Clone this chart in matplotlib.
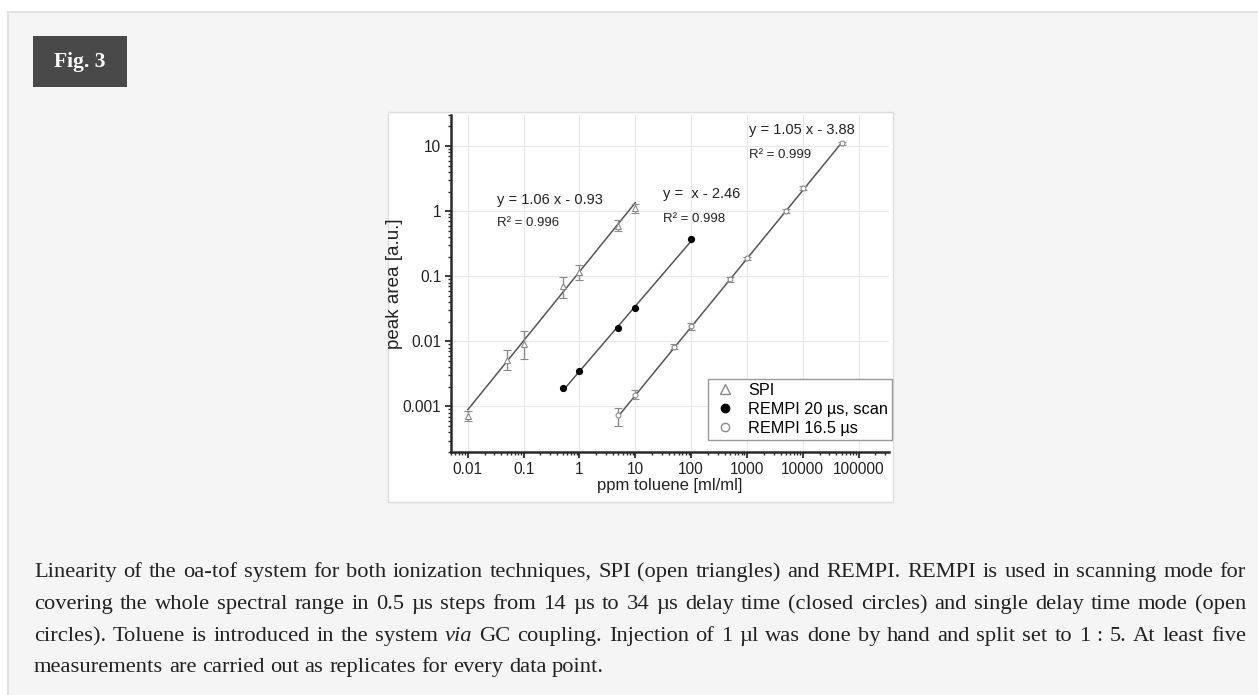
import numpy as np
import matplotlib
matplotlib.use("Agg")
import matplotlib.pyplot as plt
from matplotlib.patches import Rectangle
from matplotlib.lines import Line2D
from matplotlib.ticker import LogLocator, FuncFormatter, NullFormatter

# Data
spi_x = [0.01, 0.05, 0.1, 0.5, 1, 5, 10]
spi_y = [0.00072, 0.0052, 0.009, 0.07, 0.115, 0.6, 1.1]
spi_lo = [0.0006, 0.0036, 0.0054, 0.046, 0.087, 0.5, 0.95]
spi_hi = [0.00085, 0.0074, 0.0145, 0.098, 0.15, 0.72, 1.3]

scan_x = [0.5, 1, 5, 10, 100]
scan_y = [0.0019, 0.0035, 0.016, 0.033, 0.37]

r16_x = [5, 10, 50, 100, 500, 1000, 5000, 10000, 50000]
r16_y = [0.00075, 0.0015, 0.0083, 0.017, 0.09, 0.19, 1.0, 2.3, 11]
r16_lo = [0.0005, 0.0013, 0.0077, 0.015, 0.083, 0.18, 0.93, 2.15, 10.5]
r16_hi = [0.00095, 0.0018, 0.009, 0.019, 0.097, 0.2, 1.07, 2.45, 11.5]

# log-log fits: log y = m log x + b
fit_m = [1.06, 1.0, 1.05]
fit_b = [-0.93, -2.46, -3.88]
fit_xrange = [(0.01, 10), (0.5, 100), (5, 50000)]
fit_eq = ["y = 1.06 x - 0.93", "y =  x - 2.46", "y = 1.05 x - 3.88"]
fit_r2 = ["R² = 0.996", "R² = 0.998", "R² = 0.999"]
eq_pos = [(0.033, 1.5), (31, 1.85), (1070, 17.5)]
r2_pos = [(0.033, 0.66), (31, 0.75), (1070, 7.4)]

legend_labels = ["SPI", "REMPI 20 µs, scan", "REMPI 16.5 µs"]

caption_lines = [
    "Linearity of the oa-tof system for both ionization techniques, SPI (open triangles) and REMPI. REMPI is used in scanning mode for",
    "covering the whole spectral range in 0.5 µs steps from 14 µs to 34 µs delay time (closed circles) and single delay time mode (open",
    "circles). Toluene is introduced in the system via GC coupling. Injection of 1 µl was done by hand and split set to 1 : 5. At least five",
    "measurements are carried out as replicates for every data point.",
]
italic_words = {"via"}

W, H = 1258, 695
fig = plt.figure(figsize=(W / 100, H / 100), dpi=100)
fig.patch.set_facecolor("white")

# page panel, figure label and chart background
fig.patches.append(Rectangle((8 / W, -0.05), 1.1, 1 - 12 / H + 0.05, transform=fig.transFigure,
                             facecolor="#f5f5f5", edgecolor="#e2e2e2", lw=1.5, zorder=0))
fig.patches.append(Rectangle((33 / W, 1 - 87 / H), 94 / W, 51 / H, transform=fig.transFigure,
                             facecolor="#494949", edgecolor="none", zorder=1))
fig.text(80 / W, 1 - 62 / H, "Fig. 3", color="white", fontsize=15.5, fontweight="bold",
         family="Liberation Serif", ha="center", va="center")
fig.patches.append(Rectangle((388 / W, 1 - 502 / H), 505 / W, 390 / H, transform=fig.transFigure,
                             facecolor="white", edgecolor="#dddddd", lw=1, zorder=1))

ax = fig.add_axes([451 / W, 1 - 452 / H, 438 / W, 337 / H])
ax.set_zorder(3)
ax.patch.set_alpha(0)
ax.set_xscale("log")
ax.set_yscale("log")
ax.set_xlim(0.005, 3.5e5)
ax.set_ylim(0.0002, 30)

sans = "Liberation Sans"
gray = "#8a8a8a"

# fit lines
for m, b, (x0, x1) in zip(fit_m, fit_b, fit_xrange):
    xs = np.array([x0, x1])
    ax.plot(xs, 10 ** b * xs ** m, color="#555555", lw=1.1, zorder=3)

# data
ax.errorbar(spi_x, spi_y,
            yerr=[np.array(spi_y) - np.array(spi_lo), np.array(spi_hi) - np.array(spi_y)],
            fmt="^", ms=4, mfc="white", mec=gray, mew=0.8, ecolor=gray, elinewidth=1,
            capsize=3, capthick=1, zorder=4)
ax.plot(scan_x, scan_y, "o", ms=4.2, color="black", zorder=5)
ax.errorbar(r16_x, r16_y,
            yerr=[np.array(r16_y) - np.array(r16_lo), np.array(r16_hi) - np.array(r16_y)],
            fmt="o", ms=3.5, mfc="white", mec=gray, mew=0.8, ecolor=gray, elinewidth=1,
            capsize=3, capthick=1, zorder=4)

# annotations
for eq, r2, pe, pr in zip(fit_eq, fit_r2, eq_pos, r2_pos):
    ax.text(pe[0], pe[1], eq, fontsize=10.5, family=sans, color="#222222", ha="left", va="center")
    ax.text(pr[0], pr[1], r2, fontsize=9.5, family=sans, color="#222222", ha="left", va="center")

# axes styling
for s in ["top", "right"]:
    ax.spines[s].set_visible(False)
for s in ["left", "bottom"]:
    ax.spines[s].set_linewidth(1.8)
    ax.spines[s].set_color("#2a2a2a")
ax.grid(True, which="major", color="#e8e8e8", lw=0.8)
ax.set_axisbelow(True)

def fmt(v, pos):
    if v >= 1:
        return str(int(round(v)))
    return ("%.6f" % v).rstrip("0").rstrip(".")

ax.xaxis.set_major_locator(LogLocator(base=10, numticks=20))
ax.yaxis.set_major_locator(LogLocator(base=10, numticks=20))
ax.xaxis.set_minor_locator(LogLocator(base=10, subs=np.arange(2, 10), numticks=20))
ax.yaxis.set_minor_locator(LogLocator(base=10, subs=np.arange(2, 10), numticks=20))
ax.xaxis.set_major_formatter(FuncFormatter(fmt))
ax.yaxis.set_major_formatter(FuncFormatter(fmt))
ax.xaxis.set_minor_formatter(NullFormatter())
ax.yaxis.set_minor_formatter(NullFormatter())
ax.tick_params(which="major", direction="out", length=4, width=1.3, color="#2a2a2a",
               labelsize=11.2, labelcolor="#222222", pad=3)
ax.tick_params(which="minor", direction="out", length=2.5, width=1.0, color="#2a2a2a")
for lbl in ax.get_xticklabels() + ax.get_yticklabels():
    lbl.set_family(sans)

ax.set_xlabel("ppm toluene [ml/ml]", fontsize=12, family=sans, color="#222222", labelpad=1)
ax.set_ylabel("peak area [a.u.]", fontsize=13.5, family=sans, color="#222222", labelpad=0)

handles = [
    Line2D([], [], ls="none", marker="^", ms=6.5, mfc="white", mec=gray, mew=1),
    Line2D([], [], ls="none", marker="o", ms=6, color="black"),
    Line2D([], [], ls="none", marker="o", ms=6, mfc="white", mec=gray, mew=1),
]
leg = ax.legend(handles, legend_labels, loc="lower right",
                bbox_to_anchor=(892 / W, 1 - 440 / H), bbox_transform=fig.transFigure,
                prop={"family": sans, "size": 11.7}, frameon=True, fancybox=False,
                edgecolor="#999999", framealpha=1, borderpad=0.25, labelspacing=0.25,
                handletextpad=0.7, handlelength=1.5, borderaxespad=0)
leg.get_frame().set_linewidth(1)

# caption, justified
r = fig.canvas.get_renderer()
left_px, right_px = 34, 1246
baselines = [577, 609, 641, 672]
cap_size = 16.2
for i, line in enumerate(caption_lines):
    y = 1 - baselines[i] / H
    words = line.split(" ")
    texts = [fig.text(0, y, w, fontsize=cap_size, family="Liberation Serif", color="#222222",
                      style="italic" if w in italic_words else "normal", ha="left", va="baseline")
             for w in words]
    widths = [t.get_window_extent(r).width for t in texts]
    if i == len(caption_lines) - 1:
        gap = cap_size * 100 / 72 * 0.25
    else:
        gap = (right_px - left_px - sum(widths)) / (len(words) - 1)
    x = left_px
    for t, w in zip(texts, widths):
        t.set_x(x / W)
        x += w + gap

fig.savefig("out.png", dpi=100)
